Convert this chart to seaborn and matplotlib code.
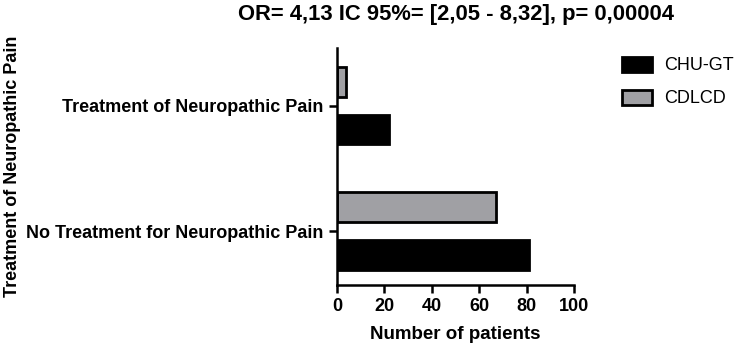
import seaborn as sns
import matplotlib.pyplot as plt
import pandas as pd
from matplotlib.patches import Patch

categories = ['Treatment of Neuropathic Pain', 'No Treatment for Neuropathic Pain']
groups = ['CDLCD', 'CHU-GT']
cdlcd = [4, 67]
chu_gt = [22, 81]
xticks = [0, 20, 40, 60, 80, 100]
title = 'OR= 4,13 IC 95%= [2,05 - 8,32], p= 0,00004'

df = pd.DataFrame({
    'cat': categories * 2,
    'group': ['CDLCD'] * 2 + ['CHU-GT'] * 2,
    'n': cdlcd + chu_gt,
})

sns.set_style('ticks')
plt.rcParams['font.family'] = ['Liberation Sans', 'DejaVu Sans']
plt.rcParams['text.color'] = 'black'
plt.rcParams['axes.labelcolor'] = 'black'
plt.rcParams['xtick.color'] = 'black'
plt.rcParams['ytick.color'] = 'black'

fig = plt.figure(figsize=(7.39, 3.48), dpi=100)
ax = fig.add_axes([0.456, 0.181, 0.321, 0.681])

pal = {'CDLCD': '#a0a0a4', 'CHU-GT': 'black'}
sns.barplot(data=df, y='cat', x='n', hue='group', hue_order=groups, order=categories,
            palette=pal, orient='h', width=0.76, gap=0.38, edgecolor='black',
            linewidth=2, saturation=1, ax=ax, legend=False)

ax.set_xlim(0, 100)
ax.set_xticks(xticks)
ax.set_ylim(1.43, -0.46)
sns.despine(ax=ax)
for s in ['left', 'bottom']:
    ax.spines[s].set_linewidth(1.8)
    ax.spines[s].set_color('black')
ax.tick_params(axis='both', width=1.8, length=6, color='black')
for lab in ax.get_xticklabels() + ax.get_yticklabels():
    lab.set_fontweight('bold')
    lab.set_fontsize(13)
    lab.set_color('black')

ax.set_xlabel('Number of patients', fontsize=13.5, fontweight='bold', labelpad=8)
ax.set_ylabel('Treatment of Neuropathic Pain', fontsize=13, fontweight='bold')
ax.yaxis.set_label_coords(-1.33, 0.5)
ax.set_title(title, fontsize=15.8, fontweight='bold', color='black', pad=20)

handles = [Patch(facecolor='black', edgecolor='black', linewidth=2, label='CHU-GT'),
           Patch(facecolor='#a0a0a4', edgecolor='black', linewidth=2, label='CDLCD')]
fig.legend(handles=handles, loc='upper left', bbox_to_anchor=(0.835, 0.853),
           frameon=False, fontsize=13, handlelength=1.65, handleheight=0.9,
           handletextpad=0.65, labelspacing=0.85, borderaxespad=0, borderpad=0.3)

fig.savefig('out.png', dpi=100)
